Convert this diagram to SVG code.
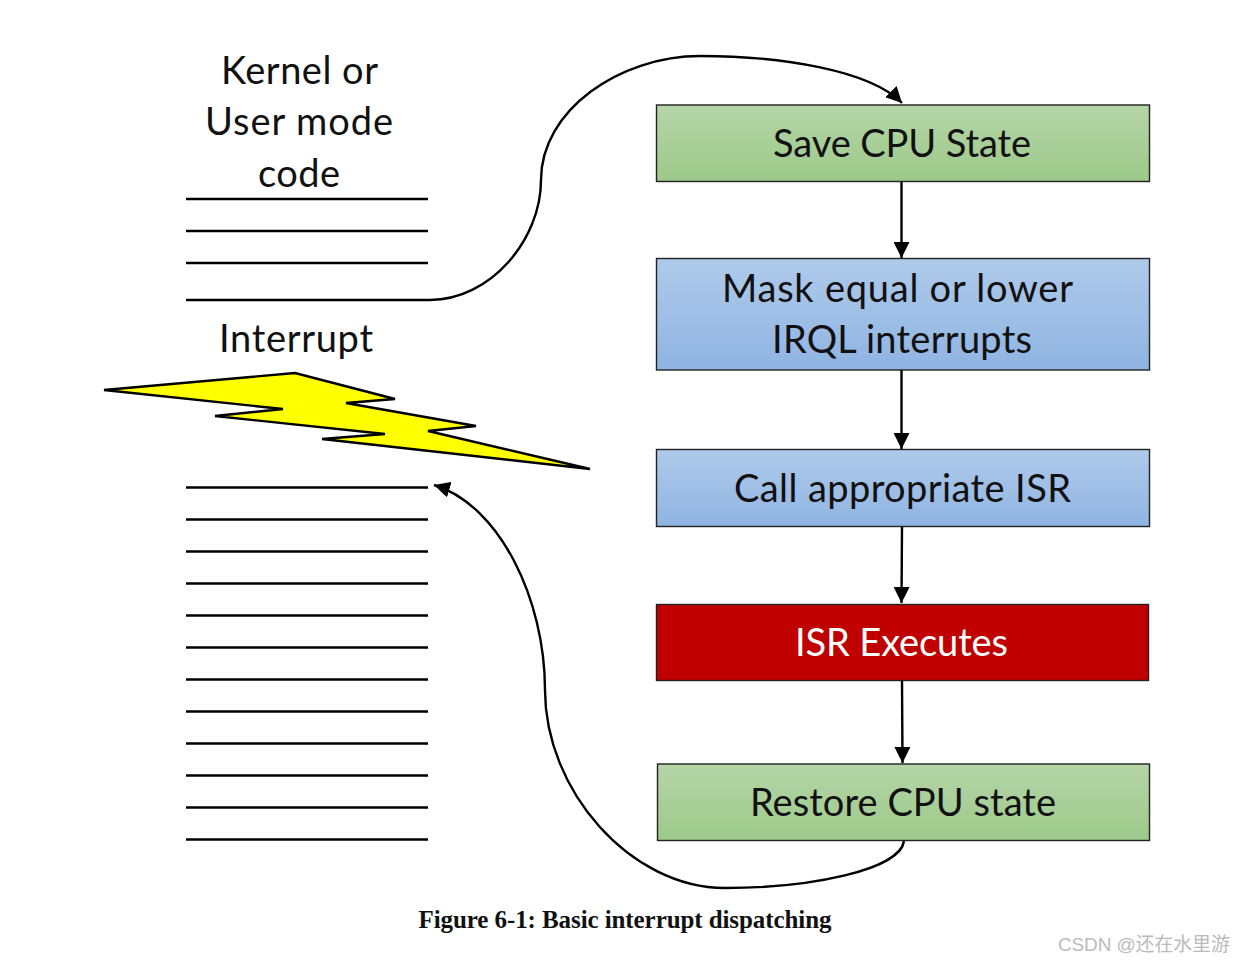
<svg xmlns="http://www.w3.org/2000/svg" width="1245" height="962" viewBox="0 0 1245 962">
<style>
.t{font-family:"Lato","Open Sans",sans-serif;font-size:38px;fill:#111;text-anchor:middle}
.r{stroke:#222;stroke-width:1.4}
.l{stroke:#000;stroke-width:2.6;fill:none}
.c{stroke:#000;stroke-width:2.4;fill:none}
</style>
<defs>
<linearGradient id="g" x1="0" y1="0" x2="0" y2="1"><stop offset="0" stop-color="#b5d5a7"/><stop offset="1" stop-color="#9dc98a"/></linearGradient>
<linearGradient id="b" x1="0" y1="0" x2="0" y2="1"><stop offset="0" stop-color="#afcaea"/><stop offset="1" stop-color="#8fb4e2"/></linearGradient>
<marker id="a" markerUnits="userSpaceOnUse" markerWidth="17" markerHeight="16" refX="16" refY="8" orient="auto"><path d="M0 0L16 8L0 16Z" fill="#000"/></marker>
</defs>
<rect width="1245" height="962" fill="#fff"/>
<g id="code-top">
<path class="l" d="M186 199H428M186 231H428M186 263H428M186 300H430"/>
<text class="t" x="299.500" y="84" textLength="157">Kernel or</text>
<text class="t" x="299" y="135" textLength="188">User mode</text>
<text class="t" x="299" y="187" textLength="82">code</text>
</g>
<g id="interrupt">
<text class="t" x="296" y="352" textLength="154">Interrupt</text>
<path d="M104 390L295 373L395 399L346 403L476 426L428 431L590 469L322 439L385 434L215 416L283 409Z" fill="#ff0" stroke="#000" stroke-width="2.4"/>
</g>
<g id="code-bottom">
<path class="l" d="M186 487.500H428M186 519.500H428M186 551.500H428M186 583.500H428M186 615.500H428M186 647.500H428M186 679.500H428M186 711.500H428M186 743.500H428M186 775.500H428M186 807.500H428M186 839.500H428"/>
</g>
<g id="save"><rect class="r" x="656.500" y="105" width="493" height="76.500" fill="url(#g)"/><text class="t" x="902" y="157" textLength="258">Save CPU State</text></g>
<g id="mask"><rect class="r" x="656.500" y="258.500" width="493" height="111.500" fill="url(#b)"/><text class="t" x="897.500" y="302" textLength="351">Mask equal or lower</text><text class="t" x="902" y="353" textLength="260">IRQL interrupts</text></g>
<g id="call"><rect class="r" x="656.500" y="449.500" width="493" height="77" fill="url(#b)"/><text class="t" x="902.500" y="502" textLength="337">Call appropriate ISR</text></g>
<g id="isr"><rect class="r" x="656.500" y="604.500" width="492" height="76" fill="#c00000"/><text class="t" x="901.500" y="656" style="fill:#fff" textLength="213">ISR Executes</text></g>
<g id="restore"><rect class="r" x="657.500" y="764" width="492" height="76.500" fill="url(#g)"/><text class="t" x="903" y="816" textLength="306">Restore CPU state</text></g>
<g id="connectors">
<path class="c" marker-end="url(#a)" d="M430 300C490 300 541 240 541 180C541 110 620 56 700 56C780 56 870 70 902 103"/>
<path class="c" marker-end="url(#a)" d="M901.500 182V258"/>
<path class="c" marker-end="url(#a)" d="M901.500 370V449"/>
<path class="c" marker-end="url(#a)" d="M902 527L901.500 603"/>
<path class="c" marker-end="url(#a)" d="M902 681L902.500 763"/>
<path class="c" marker-end="url(#a)" d="M904 841C900 870 810 888 725 888C630 888 545 790 545 690C545 600 500 505 434 485"/>
</g>
<text id="caption" x="625" y="928" text-anchor="middle" textLength="413" style="font-family:'Liberation Serif',serif;font-weight:bold;font-size:25px;fill:#111">Figure 6-1: Basic interrupt dispatching</text>
<text id="watermark" x="1058" y="951" textLength="172" style="font-family:'Liberation Sans','Noto Sans CJK SC',sans-serif;font-size:19px;fill:#bbb">CSDN @还在水里游</text>
</svg>
